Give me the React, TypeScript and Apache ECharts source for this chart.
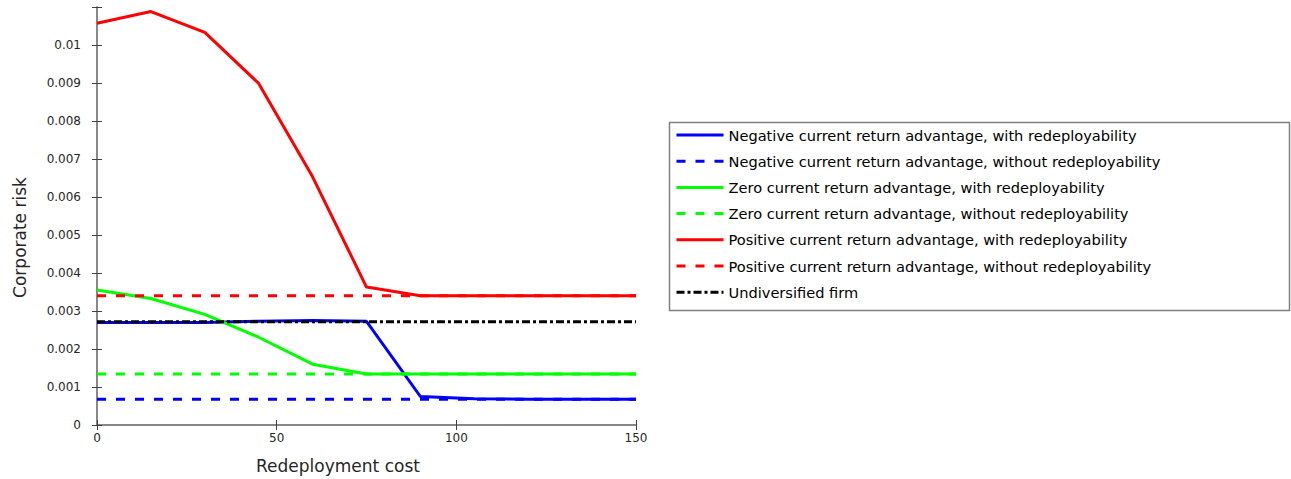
import React, { useEffect, useRef } from 'react';
import * as echarts from 'echarts';

const costs = [0, 15, 30, 45, 60, 75, 90, 105, 120, 135, 150];
const negWith = [0.0027, 0.0027, 0.0027, 0.00273, 0.00275, 0.00273, 0.00075, 0.00069, 0.00068, 0.00068, 0.00068];
const negWithout = [0.00068, 0.00068, 0.00068, 0.00068, 0.00068, 0.00068, 0.00068, 0.00068, 0.00068, 0.00068, 0.00068];
const zeroWith = [0.00355, 0.00333, 0.00291, 0.00231, 0.0016, 0.00134, 0.00134, 0.00134, 0.00134, 0.00134, 0.00134];
const zeroWithout = [0.00134, 0.00134, 0.00134, 0.00134, 0.00134, 0.00134, 0.00134, 0.00134, 0.00134, 0.00134, 0.00134];
const posWith = [0.01057, 0.01088, 0.01033, 0.00899, 0.00653, 0.00363, 0.0034, 0.0034, 0.0034, 0.0034, 0.0034];
const posWithout = [0.0034, 0.0034, 0.0034, 0.0034, 0.0034, 0.0034, 0.0034, 0.0034, 0.0034, 0.0034, 0.0034];
const undiversified = [0.00272, 0.00272, 0.00272, 0.00272, 0.00272, 0.00272, 0.00272, 0.00272, 0.00272, 0.00272, 0.00272];

const seriesNames = [
  'Negative current return advantage, with redeployability',
  'Negative current return advantage, without redeployability',
  'Zero current return advantage, with redeployability',
  'Zero current return advantage, without redeployability',
  'Positive current return advantage, with redeployability',
  'Positive current return advantage, without redeployability',
  'Undiversified firm',
];
const xTitle = 'Redeployment cost';
const yTitle = 'Corporate risk';

const FONT = 'DejaVu Sans';

export default function App() {
  const ref = useRef<HTMLDivElement>(null);
  useEffect(() => {
    if (!ref.current) return;
    const chart = echarts.init(ref.current, null, { renderer: 'svg' });
    const pair = (vals: number[]) => costs.map((c, i) => [c, vals[i]]);
    const mk = (name: string, vals: number[], color: string, type: any) => ({
      name,
      type: 'line',
      data: pair(vals),
      symbol: 'none',
      showSymbol: false,
      lineStyle: { color, width: 3, type },
      itemStyle: { color },
      z: 3,
    });
    const dash = [9, 10];
    const axisLineStyle = { color: '#808080', width: 1.5 };
    const tickStyle = { color: '#404040', width: 1 };
    const yFmt = (v: number) => (v > 0.0105 ? '' : String(+v.toFixed(4)));
    chart.setOption({
      animation: false,
      grid: { left: 97, top: 7, width: 539, height: 418, containLabel: false },
      xAxis: [
        {
          type: 'value', min: 0, max: 150, interval: 50, position: 'bottom',
          axisLine: { show: true, lineStyle: axisLineStyle },
          axisTick: { show: true, inside: true, length: 5, lineStyle: tickStyle },
          axisLabel: { margin: 7, fontFamily: FONT, fontSize: 12, color: '#262626' },
          splitLine: { show: false },
        },
        {
          type: 'value', min: 0, max: 150, interval: 50, position: 'top',
          axisLine: { show: true, lineStyle: axisLineStyle },
          axisTick: { show: true, inside: true, length: 5, lineStyle: tickStyle },
          axisLabel: { show: false },
          splitLine: { show: false },
        },
      ],
      yAxis: [
        {
          type: 'value', min: 0, max: 0.011, interval: 0.001, position: 'left',
          axisLine: { show: true, lineStyle: axisLineStyle },
          axisTick: { show: true, inside: true, length: 5, lineStyle: tickStyle },
          axisLabel: { margin: 16, fontFamily: FONT, fontSize: 12, color: '#262626', formatter: yFmt },
          splitLine: { show: false },
        },
        {
          type: 'value', min: 0, max: 0.011, interval: 0.001, position: 'right',
          axisLine: { show: true, lineStyle: axisLineStyle },
          axisTick: { show: true, inside: true, length: 5, lineStyle: tickStyle },
          axisLabel: { show: false },
          splitLine: { show: false },
        },
      ],
      legend: {
        orient: 'vertical',
        left: 675,
        top: 127,
        padding: 0,
        itemWidth: 47,
        itemHeight: 14,
        itemGap: 10.2,
        data: seriesNames,
        itemStyle: { opacity: 0 },
        lineStyle: { width: 3 },
        textStyle: { fontFamily: FONT, fontSize: 14.6, color: '#000', lineHeight: 16 },
      },
      graphic: [
        {
          type: 'rect',
          shape: { x: 669.5, y: 122.5, width: 620, height: 188 },
          style: { fill: 'none', stroke: '#808080', lineWidth: 1.5 },
          silent: true,
        },
        {
          type: 'text',
          x: 338,
          y: 466,
          style: { text: xTitle, fontFamily: FONT, fontSize: 17, fill: '#262626', align: 'center', verticalAlign: 'middle' },
        },
        {
          type: 'text',
          x: 20,
          y: 237.5,
          rotation: Math.PI / 2,
          style: { text: yTitle, fontFamily: FONT, fontSize: 17, fill: '#262626', align: 'center', verticalAlign: 'middle' },
        },
      ],
      series: [
        mk(seriesNames[0], negWith, '#0000ff', 'solid'),
        mk(seriesNames[1], negWithout, '#0000ff', dash),
        mk(seriesNames[2], zeroWith, '#00ff00', 'solid'),
        mk(seriesNames[3], zeroWithout, '#00ff00', dash),
        mk(seriesNames[4], posWith, '#ff0000', 'solid'),
        mk(seriesNames[5], posWithout, '#ff0000', dash),
        mk(seriesNames[6], undiversified, '#000000', [8, 3, 3, 3]),
      ],
    });
    return () => chart.dispose();
  }, []);
  return <div ref={ref} style={{ position: 'absolute', left: 0, top: 0, width: 1291, height: 479 }} />;
}
